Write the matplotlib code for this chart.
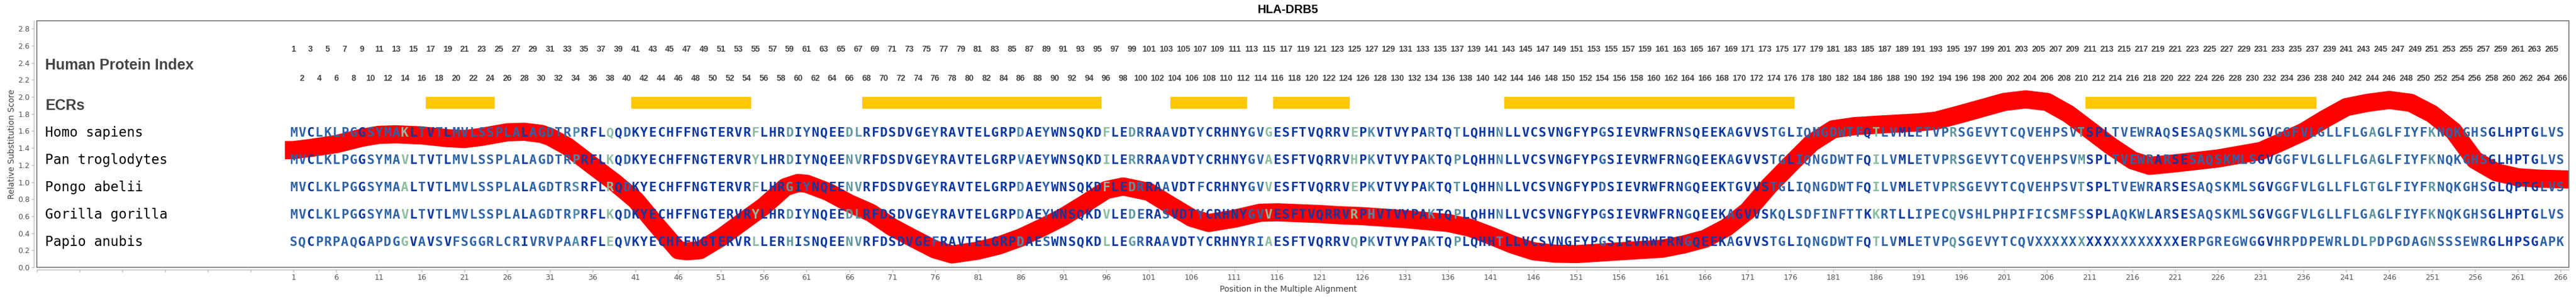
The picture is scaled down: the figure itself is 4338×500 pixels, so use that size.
import numpy as np
import matplotlib
matplotlib.use('Agg')
import matplotlib.pyplot as plt
from matplotlib.patches import Rectangle

# ---- data ----
title = 'HLA-DRB5'
species = ['Homo sapiens', 'Pan troglodytes', 'Pongo abelii', 'Gorilla gorilla', 'Papio anubis']
sequences = [
    'MVCLKLPGGSYMAKLTVTLMVLSSPLALAGDTR' 'PRFLQQDKYECHFFNGTERVRFLHRDIYNQEE'
    'DLRFDSDVGEYRAVTELGRPDAEYWNSQKDFLEDRRAAVDTY' 'CRHNYGVGESFTVQRRVEPKVTVYPARTQTLQHHNLLVCSVN'
    'GFYPGSIEVRWFRNSQEEKAGVVSTGLIQNGDWTFQTLVMLET' 'VPRSGEVYTCQVEHPSVTSPLTVEWRAQSESAQSKMLSGV'
    'GGFVLGLLFLGAGLFIYFKNQKGHSGLHPTGLVS',
    'MVCLKLPGGSYMAVLTVTLMVLSSPLALAGDTR' 'PRFLKQDKYECHFFNGTERVRYLHRDIYNQEE'
    'NVRFDSDVGEYRAVTELGRPVAEYWNSQKDILERRRAAVDTY' 'CRHNYGVAESFTVQRRVHPKVTVYPAKTQPLQHHNLLVCSVN'
    'GFYPGSIEVRWFRNGQEEKAGVVSTGLIQNGDWTFQILVMLET' 'VPRSGEVYTCQVEHPSVMSPLTVEWRARSESAQSKMLSGV'
    'GGFVLGLLFLGAGLFIYFKNQKGHSGLHPTGLVS',
    'MVCLKLPGGSYMAALTVTLMVLSSPLALAGDTR' 'SRFLRQDKYECHFFNGTERVRFLHRGIYNQEE'
    'NVRFDSDVGEYRAVTELGRPDAEYWNSQKDFLEDRRAAVDTF' 'CRHNYGVVESFTVQRRVEPKVTVYPAKTQTLQHHNLLVCSVN'
    'GFYPDSIEVRWFRNGQEEKTGVVSTGLIQNGDWTFQILVMLET' 'VPRSGEVYTCQVEHPSVTSPLTVEWRARSESAQSKMLSGV'
    'GGFVLGLLFLGTGLFIYFRNQKGHSGLQPTGLVS',
    'MVCLKLPGGSYMAVLTVTLMVLSSPLALAGDTR' 'PRFLKQDKYECHFFNGTERVRYLHRDIYNQEE'
    'DLRFDSDVGEYRAVTELGRPDAEYWNSQKDVLEDERASVDTY' 'CRHNYGVVESFTVQRRVRPHVTVYPAKTQPLQHHNLLVCSVN'
    'GFYPGSIEVRWFRNGQEEKAGVVSKQLSDFINFTTKKRTLLIP' 'ECQVSHLPHPIFICSMFSSPLAQKWLARSESAQSKMLSGV'
    'GGFVLGLLFLGAGLFIYFKNQKGHSGLHPTGLVS',
    'SQCPRPAQGAPDGGVAVSVFSGGRLCRIVRVPA' 'ARFLEQVKYECHFFNGTERVRLLERHISNQEE'
    'NVRFDSDVGEFRAVTELGRPDAESWNSQKDLLEGRRAAVDTY' 'CRHNYRIAESFTVQRRVQPKVTVYPAKTQPLQHHTLLVCSVN'
    'GFYPGSIEVRWFRNGQEEKAGVVSTGLIQNGDWTFQTLVMLET' 'VPQSGEVYTCQVXXXXXXXXXXXXXXXXXERPGREGWGGV'
    'HRPDPEWRLDLPDPGDAGNSSSEWRGLHPSGAPK',
]
# conservation class of every alignment column (d=dark ... g=green)
column_class = ('mmdmmmmmdm' 'mmmgdmdmdm' 'mmmmmmmdmm' 'mmm'
                'sdddgdmddd' 'dddddddddd' 'dgdddtdmdd' 'ddt'
                'tddddddddm' 'ddddddddds' 'ddmddddddg' 'ddtmddmdddm'
                'dddddmmgdd' 'dddddddgds' 'ddddddsddt' 'ddddsddddddd'
                'ddddmddddd' 'ddddmddddm' 'ddddmmdmmm' 'mmmmmdgmmd' 'dmm'
                'mmtmmmmmmm' 'mmmmmmmtdd' 'dmmmmmdmdd' 'mmmmmmmmdd'
                'mmmmmmmmmm' 'mtmmmmmmtm' 'mmmmmddddd' 'dmmm')
class_colors = {'d': '#0b38a0', 'm': '#2e63a6', 's': '#5189ab', 't': '#5e97a0', 'g': '#8bbd9e'}

ecr_start = [17, 41, 68, 104, 116, 143, 211]
ecr_end = [24, 54, 95, 112, 124, 176, 237]

score_pos = [0, 1, 3, 6, 9, 11, 13, 16, 19, 21, 23, 26, 28, 30, 31, 33, 36, 38.5, 41, 43.5,
             46, 47, 48.5, 51, 53.5, 56, 58.5, 60, 61, 63.5, 66, 68.5, 71, 73.5, 76, 78, 81,
             83.5, 86, 88.5, 91, 93.5, 96, 98, 101, 103.5, 106, 108, 111, 114, 116, 121, 123,
             126, 131, 133, 136, 138.5, 141, 143.5, 146, 148.5, 151, 156, 161, 163.5, 166,
             168.5, 171, 173.5, 176, 178.5, 181, 183.5, 186, 191, 193, 196, 198.5, 201, 203.5,
             206, 208.5, 211, 213.5, 216, 218, 221, 226, 231, 233.5, 236, 238.5, 241, 243.5,
             246, 248.5, 251, 253.5, 256, 258.5, 261, 263.5, 266, 267]
score_val = [1.375, 1.375, 1.40, 1.445, 1.52, 1.554, 1.56, 1.547, 1.515, 1.505, 1.53, 1.584,
             1.59, 1.565, 1.53, 1.42, 1.19, 1.0, 0.79, 0.49,
             0.20, 0.188, 0.20, 0.35, 0.535, 0.716, 0.94, 0.99, 0.98, 0.885, 0.75, 0.64, 0.47,
             0.337, 0.209, 0.151, 0.195,
             0.257, 0.348, 0.465, 0.592, 0.745, 0.906, 0.948, 0.885, 0.73, 0.58, 0.52, 0.57,
             0.64, 0.645, 0.625, 0.612,
             0.60, 0.565, 0.546, 0.52, 0.465, 0.37, 0.267, 0.187, 0.16, 0.155, 0.187, 0.218,
             0.267, 0.334,
             0.465, 0.662, 0.953, 1.21, 1.46, 1.62, 1.656, 1.672, 1.70, 1.72, 1.80, 1.87, 1.94,
             1.97,
             1.94, 1.80, 1.61, 1.42, 1.254, 1.19, 1.22, 1.277, 1.365, 1.475, 1.59, 1.742, 1.88,
             1.93,
             1.963, 1.93, 1.80, 1.60, 1.26, 1.115, 1.057, 1.04, 1.033, 1.03]

n_pos = len(sequences[0])
row_base = [1.53, 1.21, 0.89, 0.57, 0.25]

# ---- figure ----
W, H = 4338, 500
fig = plt.figure(figsize=(W / 100, H / 100), dpi=100)
ax = fig.add_axes([62 / W, 50 / H, (4326 - 62) / W, 415 / H])
ax.set_xlim(-29, 267)
ax.set_ylim(0, 2.892)

# substitution score curve
ax.plot(score_pos, score_val, color='#ff0000', lw=22, solid_capstyle='butt',
        solid_joinstyle='round', zorder=2)

# ECR bars
ax.bar([(s + e) / 2 for s, e in zip(ecr_start, ecr_end)],
       0.14, width=[e - s + 1 for s, e in zip(ecr_start, ecr_end)],
       bottom=1.86, color='#ffc800', zorder=1)

# left hand labels
ax.text(-28.0, 2.318, 'Human Protein Index', fontsize=18, fontweight='bold',
        family='Liberation Sans', color='#444444', va='baseline')
ax.text(-28.0, 1.847, 'ECRs', fontsize=18, fontweight='bold',
        family='Liberation Sans', color='#444444', va='baseline')

# protein index numbers
for i in range(1, n_pos + 1):
    yy = 2.527 if i % 2 == 1 else 2.19
    ax.text(i, yy, str(i), ha='center', va='baseline', fontsize=10, fontweight='bold',
            family='Liberation Sans', color='#444444')

# alignment rows
for name, seq, yb in zip(species, sequences, row_base):
    ax.text(-28.0, yb, name, family='DejaVu Sans Mono', fontsize=16.4,
            color='black', va='baseline')
    for i, ch in enumerate(seq):
        ax.text(i + 1, yb, ch, family='DejaVu Sans Mono', fontweight='bold',
                fontsize=15.5, color=class_colors[column_class[i]],
                ha='center', va='baseline', zorder=4)

# axes styling
for s in ['top', 'right']:
    ax.spines[s].set_visible(False)
ax.spines['left'].set_position(('outward', 3.6))
ax.spines['bottom'].set_position(('outward', 2.9))
for s in ['left', 'bottom']:
    ax.spines[s].set_color('#b4b4b4')
ax.add_patch(Rectangle((0, 0), 1, 1, transform=ax.transAxes, fill=False,
                       ec='#808080', lw=1.3, clip_on=False, zorder=6))

xt = np.arange(-29, 267, 5)
ax.set_xticks(xt)
ax.set_xticklabels([str(t) if t >= 1 else '' for t in xt])
yt = np.arange(0, 2.81, 0.2)
ax.set_yticks(yt)
ax.set_yticklabels(['%.1f' % v for v in yt])
ax.tick_params(direction='out', length=3, width=0.8, color='#b4b4b4',
               labelsize=9, labelcolor='#555555', pad=2)

fig.text(0.5, 1 - 21.7 / H, title, ha='center', va='baseline', fontsize=14.4,
         fontweight='bold', family='Liberation Sans', color='black')
fig.text(0.5, 1 - 487 / H, 'Position in the Multiple Alignment', ha='center',
         va='center', fontsize=9.8, color='#444444')
fig.text(20 / W, 1 - 243 / H, 'Relative Substitution Score', rotation=90,
         ha='center', va='center', fontsize=9.8, color='#444444')

fig.savefig('out.png', dpi=100, facecolor='white')
